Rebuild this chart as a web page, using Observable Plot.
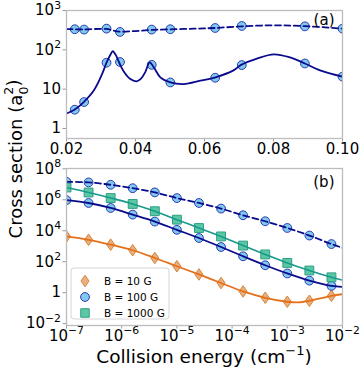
<!DOCTYPE html>
<html><head><meta charset="utf-8">
<script src="https://cdn.jsdelivr.net/npm/d3@7"></script>
<script src="https://cdn.jsdelivr.net/npm/@observablehq/plot@0.6"></script>
<style>
body{margin:0;background:#fff;}
#wrap{position:relative;width:360px;height:370px;overflow:hidden;background:#fff;font-family:"DejaVu Sans",sans-serif;}
#wrap > *{position:absolute;left:0;}
</style></head><body><div id="wrap"></div>
<script>
// ---------- Panel (a) data ----------
const aPointX = [0.0224, 0.0251, 0.0316, 0.0355, 0.0447, 0.0501, 0.0631, 0.0708, 0.0891, 0.1];
const aDashedPts = [334, 327, 346, 285, 327, 334, 359, 404, 396, 346];
const aSolidPts = [3.0, 4.7, 47, 49, 41.5, 14.8, 19.5, 41, 45, 20.8];
const aDashedCurveX = [0.02, 0.025, 0.0316, 0.0335, 0.0352, 0.04, 0.0447, 0.05, 0.057, 0.0632, 0.0707, 0.08, 0.0891, 0.1];
const aDashedCurveY = [338, 330, 340, 310, 290, 300, 320, 332, 345, 360, 395, 420, 400, 346];
const aSolidCurveX = [0.02, 0.0223, 0.025, 0.0279, 0.0303, 0.0316, 0.0328, 0.0334, 0.0342, 0.0352, 0.0366, 0.0385, 0.0403, 0.0416, 0.0429, 0.0441, 0.0453, 0.0472, 0.0501, 0.054, 0.0588, 0.0632, 0.0684, 0.0706, 0.0752, 0.0801, 0.0848, 0.0891, 0.0935, 0.1];
const aSolidCurveY = [2.4, 3.0, 4.7, 9.2, 24, 47, 77, 92, 76, 49, 28, 18, 15.8, 18.5, 28, 48, 36, 20, 14.9, 13.5, 16.4, 20, 30, 41.5, 60, 77, 64, 45, 30, 20.8];
const aTicksX = [0.02, 0.04, 0.06, 0.08, 0.10];
const aTicksY = [1, 10, 100, 1000];

// ---------- Panel (b) data ----------
const bPointX = [1e-7, 2.51e-7, 6.31e-7, 1.58e-6, 3.98e-6, 1e-5, 2.51e-5, 6.31e-5, 1.58e-4, 3.98e-4, 1e-3, 2.51e-3, 6.31e-3];
const b100Dashed = [1.45e7, 1.32e7, 9.3e6, 5.6e6, 3.0e6, 1.29e6, 6.2e5, 2.7e5, 1.0e5, 4.1e4, 1.51e4, 4.9e3, 1.38e3];
const b100Solid = [9.5e5, 6.2e5, 2.95e5, 1.1e5, 3.9e4, 1.15e4, 3.4e3, 890, 224, 59, 17.4, 6.0, 2.75];
const b1000 = [6.2e6, 2.95e6, 1.29e6, 5.4e5, 1.82e5, 5.2e4, 1.5e4, 4.3e3, 1.1e3, 295, 83, 27, 9.8];
const b10 = [4300, 2600, 1260, 550, 174, 51, 15, 4.2, 1.2, 0.47, 0.26, 0.30, 0.63];
const bCurveX = [1e-7, 2.51e-7, 6.31e-7, 1.58e-6, 3.98e-6, 1e-5, 2.51e-5, 6.31e-5, 1.58e-4, 3.98e-4, 1e-3, 2.51e-3, 6.31e-3, 1e-2];
const b100DashedCurve = [1.45e7, 1.32e7, 9.3e6, 5.6e6, 3.0e6, 1.29e6, 6.2e5, 2.7e5, 1.0e5, 4.1e4, 1.51e4, 4.9e3, 1.38e3, 790];
const b100SolidCurve = [9.5e5, 6.2e5, 2.95e5, 1.1e5, 3.9e4, 1.15e4, 3.4e3, 890, 224, 59, 17.4, 6.0, 2.75, 2.37];
const b1000Curve = [6.2e6, 2.95e6, 1.29e6, 5.4e5, 1.82e5, 5.2e4, 1.5e4, 4.3e3, 1.1e3, 295, 83, 27, 9.8, 6.5];
const b10CurveX = [1e-7, 2.51e-7, 6.31e-7, 1.58e-6, 3.98e-6, 1e-5, 2.51e-5, 6.31e-5, 1.58e-4, 3.98e-4, 1e-3, 1.6e-3, 2.51e-3, 6.31e-3, 1e-2];
const b10Curve = [4300, 2600, 1260, 550, 174, 51, 15, 4.2, 1.2, 0.47, 0.26, 0.235, 0.30, 0.63, 0.8];
const bTicksX = [1e-7, 1e-6, 1e-5, 1e-4, 1e-3, 1e-2];
const bTicksY = [1e-2, 1, 1e2, 1e4, 1e6, 1e8];
const legendLabels = ["B = 10 G", "B = 100 G", "B = 1000 G"];

// ---------- styles ----------
const NAVY = "#0a0a8c", TEAL = "#179a8c", ORANGE = "#e5701c";
const CIRC_FILL = "#80c8ee", CIRC_STROKE = "#2a3cb0";
const SQ_FILL = "#5cc8a3", SQ_STROKE = "#2e9e86";
const DI_FILL = "#e8b07e", DI_STROKE = "#d8843a";
const thinDiamond = {draw(ctx, size) {
  const r = Math.sqrt(size / Math.PI); const h = r * 1.25, w = r * 0.88;
  ctx.moveTo(0, -h); ctx.lineTo(w, 0); ctx.lineTo(0, h); ctx.lineTo(-w, 0); ctx.closePath();
}};

const pow = v => {
  const e = Math.round(Math.log10(v));
  if (e === 0) return "1";
  if (e === 1) return "10";
  return "10^" + e;
};
const zip = (xs, ys) => xs.map((x, i) => ({x, y: ys[i]}));

function supify(svg) {
  const ns = "http://www.w3.org/2000/svg";
  svg.querySelectorAll("text").forEach(t => {
    const m = /^10\^(.+)$/.exec(t.textContent);
    if (!m) return;
    t.textContent = "";
    const a = document.createElementNS(ns, "tspan"); a.textContent = "10";
    const b = document.createElementNS(ns, "tspan");
    b.textContent = m[1].replace("-", "\u2212");
    b.setAttribute("dy", "-0.6em"); b.setAttribute("font-size", "0.72em");
    t.append(a, b);
  });
}

const baseStyle = {fontFamily: "DejaVu Sans", fontSize: "15px", color: "black", background: "transparent", overflow: "visible"};
const axisOpts = {tickSize: 3.5, stroke: "#999", fill: "black", label: null};
const LW = 1.8;

// ---------- Panel (a) ----------
const plotA = Plot.plot({
  width: 360, height: 160, marginLeft: 66, marginRight: 18, marginTop: 10, marginBottom: 22,
  style: baseStyle,
  x: {domain: [0.02, 0.1], label: null},
  y: {type: "log", domain: [0.556, 1000], label: null},
  marks: [
    Plot.dot(zip(aPointX, aDashedPts), {x: "x", y: "y", r: 4.4, fill: CIRC_FILL, stroke: CIRC_STROKE, strokeWidth: 1, clip: true}),
    Plot.dot(zip(aPointX, aSolidPts), {x: "x", y: "y", r: 4.4, fill: CIRC_FILL, stroke: CIRC_STROKE, strokeWidth: 1, clip: true}),
    Plot.line(zip(aDashedCurveX, aDashedCurveY), {x: "x", y: "y", stroke: NAVY, strokeWidth: LW, strokeDasharray: "6,3.5", curve: "catmull-rom", clip: true}),
    Plot.line(zip(aSolidCurveX, aSolidCurveY), {x: "x", y: "y", stroke: NAVY, strokeWidth: LW, curve: "catmull-rom", clip: true}),
    Plot.axisX({...axisOpts, ticks: aTicksX, tickFormat: d3.format(".2f"), tickPadding: 1}),
    Plot.axisY({...axisOpts, ticks: aTicksY, tickFormat: pow, tickPadding: 2}),
    Plot.text(["(a)"], {frameAnchor: "top-right", dx: -8, dy: 4, lineAnchor: "top", textAnchor: "end", fontSize: 15}),
    Plot.frame({stroke: "#bdbdbd", strokeWidth: 1.3})
  ]
});
plotA.style.top = "0px";
supify(plotA);

// ---------- Panel (b) ----------
const plotB = Plot.plot({
  width: 360, height: 210, marginLeft: 66, marginRight: 18, marginTop: 8, marginBottom: 45,
  style: baseStyle,
  x: {type: "log", domain: [1e-7, 1e-2], label: null},
  y: {type: "log", domain: [Math.pow(10, -2.12), Math.pow(10, 8.02)], label: null},
  marks: [
    Plot.dot(zip(bPointX, b10), {x: "x", y: "y", r: 4.6, symbol: thinDiamond, fill: DI_FILL, stroke: DI_STROKE, strokeWidth: 1, clip: true}),
    Plot.dot(zip(bPointX, b100Dashed), {x: "x", y: "y", r: 4.4, fill: CIRC_FILL, stroke: CIRC_STROKE, strokeWidth: 1, clip: true}),
    Plot.dot(zip(bPointX, b100Solid), {x: "x", y: "y", r: 4.4, fill: CIRC_FILL, stroke: CIRC_STROKE, strokeWidth: 1, clip: true}),
    Plot.dot(zip(bPointX, b1000), {x: "x", y: "y", r: 5, symbol: "square", fill: SQ_FILL, stroke: SQ_STROKE, strokeWidth: 1, clip: true}),
    Plot.line(zip(b10CurveX, b10Curve), {x: "x", y: "y", stroke: ORANGE, strokeWidth: LW, curve: "catmull-rom", clip: true}),
    Plot.line(zip(bCurveX, b100DashedCurve), {x: "x", y: "y", stroke: NAVY, strokeWidth: LW, strokeDasharray: "6,3.5", curve: "catmull-rom", clip: true}),
    Plot.line(zip(bCurveX, b100SolidCurve), {x: "x", y: "y", stroke: NAVY, strokeWidth: LW, curve: "catmull-rom", clip: true}),
    Plot.line(zip(bCurveX, b1000Curve), {x: "x", y: "y", stroke: TEAL, strokeWidth: 1.6, curve: "catmull-rom", clip: true}),
    Plot.axisX({...axisOpts, ticks: bTicksX, tickFormat: pow, tickPadding: 1}),
    Plot.axisY({...axisOpts, ticks: bTicksY, tickFormat: pow, tickPadding: 2}),
    Plot.text(["(b)"], {frameAnchor: "top-right", dx: -8, dy: 8, lineAnchor: "top", textAnchor: "end", fontSize: 15}),
    Plot.frame({stroke: "#bdbdbd", strokeWidth: 1.3})
  ]
});
plotB.style.top = "160px";
supify(plotB);

// ---------- Overlay: titles and legend ----------
const ov = d3.create("svg").attr("width", 360).attr("height", 370)
  .style("top", "0px").style("font-family", "DejaVu Sans").style("pointer-events", "none");
const yt = ov.append("text").attr("transform", "translate(22,159) rotate(-90)")
  .attr("text-anchor", "middle").attr("font-size", 18).attr("fill", "black");
yt.append("tspan").text("Cross section (a");
yt.append("tspan").attr("font-size", 12.5).attr("dy", "-0.7em").text("2");
yt.append("tspan").attr("font-size", 12.5).attr("dx", "-0.62em").attr("dy", "1.15em").text("0");
yt.append("tspan").attr("dy", "-0.45em").text(")");
const xt = ov.append("text").attr("x", 204).attr("y", 363).attr("text-anchor", "middle").attr("font-size", 18.5).attr("fill", "black");
xt.append("tspan").text("Collision energy (cm");
xt.append("tspan").attr("font-size", 13).attr("dy", "-0.6em").text("\u22121");
xt.append("tspan").attr("dy", "0.42em").text(")");
const lg = ov.append("g");
lg.append("rect").attr("x", 71).attr("y", 268).attr("width", 98).attr("height", 51).attr("rx", 3)
  .attr("fill", "white").attr("fill-opacity", 0.85).attr("stroke", "#d4d4d4").attr("stroke-width", 1);
const rowsY = [281, 297, 313];
const mk = [
  {path: (() => { const p = d3.path(); thinDiamond.draw(p, Math.PI * 4.6 * 4.6); return p.toString(); })(), fill: DI_FILL, stroke: DI_STROKE},
  {path: d3.symbol(d3.symbolCircle, Math.PI * 4.4 * 4.4)(), fill: CIRC_FILL, stroke: CIRC_STROKE},
  {path: d3.symbol(d3.symbolSquare, Math.PI * 4.8 * 4.8)(), fill: SQ_FILL, stroke: SQ_STROKE}
];
legendLabels.forEach((lab, i) => {
  lg.append("path").attr("d", mk[i].path).attr("transform", `translate(85,${rowsY[i]})`)
    .attr("fill", mk[i].fill).attr("stroke", mk[i].stroke).attr("stroke-width", 1);
  lg.append("text").attr("x", 104).attr("y", rowsY[i]).attr("dy", "0.36em").attr("font-size", 10.5).attr("fill", "black").text(lab);
});

const wrap = document.getElementById("wrap");
wrap.append(plotA, plotB, ov.node());
</script></body></html>
